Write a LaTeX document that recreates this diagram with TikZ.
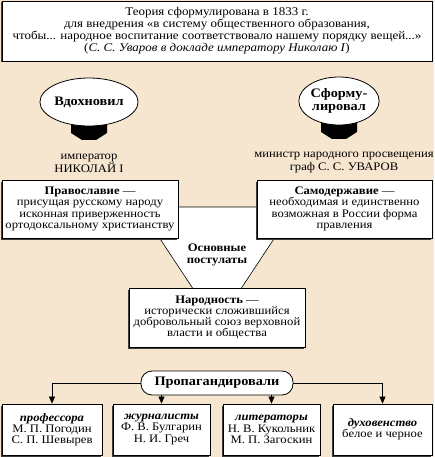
\documentclass[tikz,border=0pt]{standalone}
\usepackage{fontspec}
\setmainfont{Liberation Serif}[FakeStretch=1.1]
\usetikzlibrary{shadows,arrows.meta,shapes.geometric}
\definecolor{bg}{RGB}{246,229,207}
\definecolor{shd}{RGB}{60,60,60}
\begin{document}
\begin{tikzpicture}[x=1pt,y=-1pt,
  txt/.style={font=\fontsize{11.5}{11.2}\selectfont, align=center, inner sep=0pt},
  sbox/.style={draw=black, line width=0.8pt, fill=white, inner sep=0pt, txt,
    drop shadow={shadow xshift=-1.2pt, shadow yshift=-1.5pt, fill=shd, opacity=1}},
  oval/.style={draw=black, line width=0.8pt, fill=white, shape=ellipse, inner sep=0pt, align=center, font=\fontsize{13}{13.5}\selectfont\bfseries},
  pent/.style={fill=black},
  arr/.style={draw=black, line width=0.6pt, -{Triangle[length=7pt,width=6pt]}},
  tri/.style={fill=white, draw=black, line width=0.6pt}]
\useasboundingbox[fill=bg] (0,0) rectangle (434,457);
% top box
\node[sbox, minimum width=430pt, minimum height=60pt, font=\fontsize{11.8}{12}\selectfont] (top) at (217,31) {%
Теория сформулирована в 1833 г.\\
для внедрения «в систему общественного образования,\\
чтобы... народное воспитание соответствовало нашему порядку вещей...»\\
(\textit{С. С. Уваров в докладе императору Николаю I})};
% pentagons
\fill[pent] (71,124) -- (107,124) -- (107,133) -- (96,140) -- (82,140) -- (71,133) -- cycle;
\fill[pent] (321,123) -- (357,123) -- (357,132) -- (346,139) -- (332,139) -- (321,132) -- cycle;
% ellipses
\node[oval, minimum width=90pt, minimum height=48pt] (vd) at (89,102) {Вдохновил};
\node[oval, minimum width=78pt, minimum height=48pt] (sf) at (339,101) {Сформу-\\лировал};
\node[txt, font=\fontsize{11.5}{13}\selectfont] (nik) at (89,163) {император\\НИКОЛАЙ I};
\node[txt, font=\fontsize{11.5}{13}\selectfont] (uv) at (344,163) {министр народного просвещения\\граф С. С. УВАРОВ};
% triangle
\coordinate (t1) at (139,207);
\coordinate (t2) at (295,207);
\coordinate (t3) at (217,325);
\path[tri] (t1) -- (t2) -- (t3) -- cycle;
\node[txt, font=\fontsize{11.5}{12.5}\selectfont\bfseries] (post) at (217,255) {Основные\\постулаты};
% three boxes
\node[sbox, minimum width=176pt, minimum height=58pt] (pr) at (90,209) {\textbf{Православие} —\\присущая русскому народу\\исконная приверженность\\ортодоксальному христианству};
\node[sbox, minimum width=175pt, minimum height=58pt] (sa) at (344.5,209) {\textbf{Самодержавие} —\\необходимая и единственно\\возможная в России форма\\правления};
\node[sbox, minimum width=176pt, minimum height=59pt] (na) at (217,317.5) {\textbf{Народность} —\\исторически сложившийся\\добровольный союз верховной\\власти и общества};
% propaganda
\node[draw=black, line width=0.8pt, fill=white, rounded corners=11pt, minimum width=152pt, minimum height=24pt, inner sep=0pt, font=\fontsize{13}{13}\selectfont\bfseries] (pg) at (217,383) {Пропагандировали};
% bottom boxes
\node[sbox, minimum width=100pt, minimum height=51pt] (b1) at (52,429.5) {\textbf{\textit{профессора}}\\М. П. Погодин\\С. П. Шевырев};
\node[sbox, minimum width=97pt, minimum height=51pt] (b2) at (161.5,429.5) {\textbf{\textit{журналисты}}\\Ф. В. Булгарин\\Н. И. Греч};
\node[sbox, minimum width=97pt, minimum height=51pt] (b3) at (271.5,429.5) {\textbf{\textit{литераторы}}\\Н. В. Кукольник\\М. П. Загоскин};
\node[sbox, minimum width=99pt, minimum height=51pt] (b4) at (382.5,429.5) {\textbf{\textit{духовенство}}\\белое и черное};
% connectors
\draw[arr] (pg.west) -| (b1.north);
\draw[arr] (pg.east) -| (b4.north);
\draw[arr] (b2.north |- pg.south) -- (b2.north);
\draw[arr] (b3.north |- pg.south) -- (b3.north);
\end{tikzpicture}
\end{document}
